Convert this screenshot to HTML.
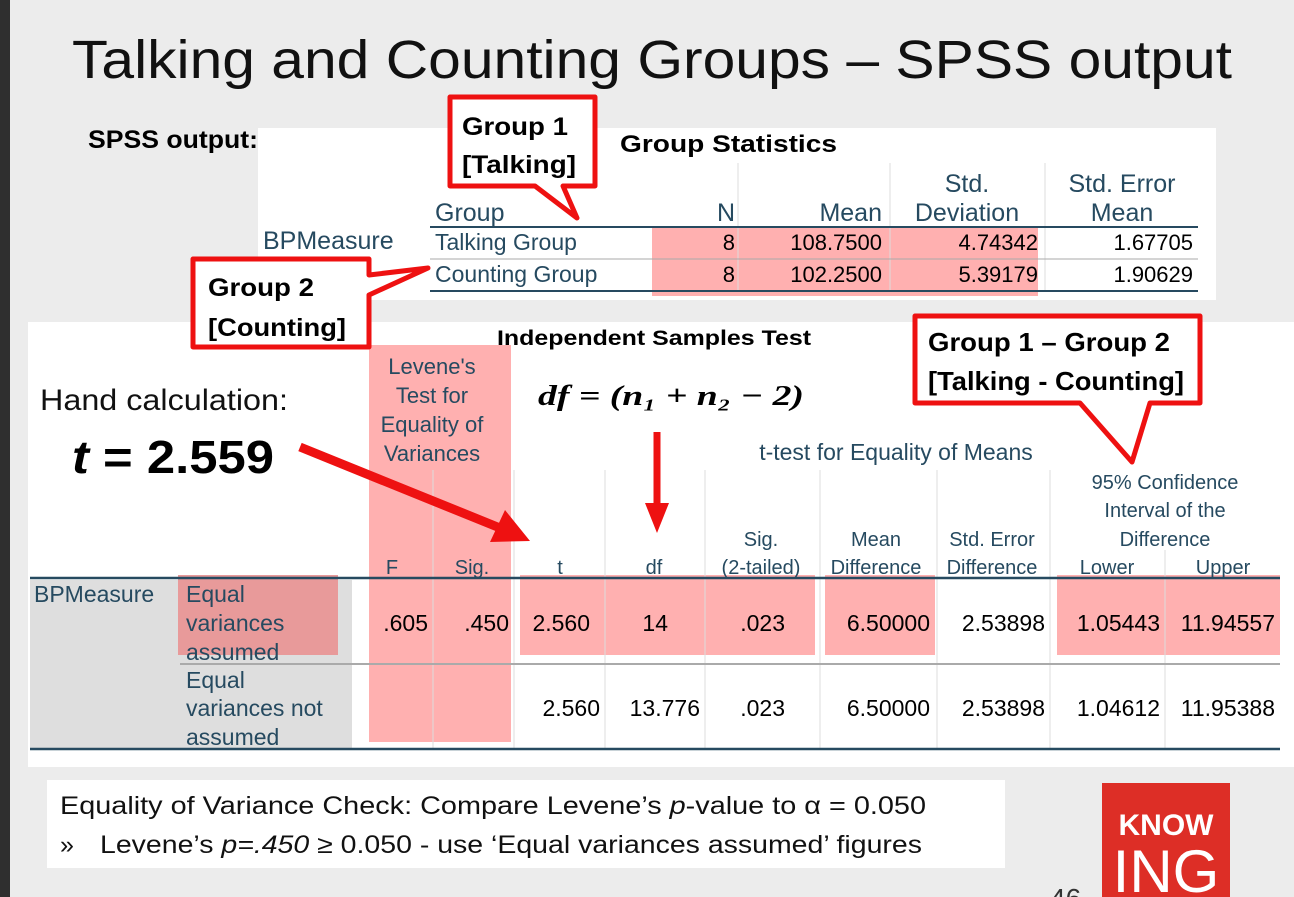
<!DOCTYPE html>
<html><head><meta charset="utf-8"><style>
html,body{margin:0;padding:0;background:#ebebeb;}
svg{display:block;font-family:"Liberation Sans",sans-serif;}
</style></head><body>
<svg width="1294" height="897" viewBox="0 0 1294 897">
<rect x="0" y="0" width="1294" height="897" fill="#ececec"/>
<rect x="0" y="0" width="10" height="897" fill="#2f2f2f"/>
<text x="72" y="78" font-size="54" fill="#111" textLength="1160" lengthAdjust="spacingAndGlyphs">Talking and Counting Groups – SPSS output</text>
<text x="88" y="148" font-size="25" font-weight="bold" fill="#000" textLength="170" lengthAdjust="spacingAndGlyphs">SPSS output:</text>

<g>
<rect x="258" y="128" width="958" height="172" fill="#fff"/>
<text x="620" y="152" font-size="24" font-weight="bold" fill="#000" textLength="217" lengthAdjust="spacingAndGlyphs">Group Statistics</text>
<rect x="652" y="226" width="386" height="70" fill="#ffb0b0"/>
<line x1="738" y1="163" x2="738" y2="292" stroke="#ddd"/>
<line x1="890" y1="163" x2="890" y2="292" stroke="#ddd"/>
<line x1="1045" y1="163" x2="1045" y2="292" stroke="#ddd"/>
<g fill="#264a60" font-size="25">
<text x="435" y="221">Group</text>
<text x="735" y="221" text-anchor="end">N</text>
<text x="882" y="221" text-anchor="end">Mean</text>
<text x="967" y="192" text-anchor="middle">Std.</text>
<text x="967" y="221" text-anchor="middle">Deviation</text>
<text x="1122" y="192" text-anchor="middle">Std. Error</text>
<text x="1122" y="221" text-anchor="middle">Mean</text>
<text x="263" y="249">BPMeasure</text>
<text x="435" y="250" font-size="23">Talking Group</text>
<text x="435" y="282" font-size="23">Counting Group</text>
</g>
<line x1="430" y1="227" x2="1198" y2="227" stroke="#264a60" stroke-width="2"/>
<line x1="430" y1="259" x2="1198" y2="259" stroke="#aaa"/>
<line x1="430" y1="291" x2="1198" y2="291" stroke="#264a60" stroke-width="2"/>
<g fill="#000" font-size="22" text-anchor="end">
<text x="735" y="250">8</text><text x="882" y="250">108.7500</text><text x="1038" y="250">4.74342</text><text x="1193" y="250">1.67705</text>
<text x="735" y="282">8</text><text x="882" y="282">102.2500</text><text x="1038" y="282">5.39179</text><text x="1193" y="282">1.90629</text>
</g>
</g>

<g>
<rect x="28" y="322" width="1266" height="445" fill="#fff"/>
<rect x="30" y="580" width="322" height="168" fill="#dedede"/>
<rect x="369" y="345" width="142" height="397" fill="#ffb0b0"/>
<rect x="520" y="575" width="295" height="80" fill="#ffb0b0"/>
<rect x="825" y="575" width="110" height="80" fill="#ffb0b0"/>
<rect x="1057" y="575" width="223" height="80" fill="#ffb0b0"/>
<rect x="178" y="575" width="160" height="80" fill="#e89a9a"/>
<g stroke="#ddd">
<line x1="433" y1="470" x2="433" y2="748"/><line x1="514" y1="470" x2="514" y2="748"/>
<line x1="605" y1="470" x2="605" y2="748"/><line x1="705" y1="470" x2="705" y2="748"/>
<line x1="820" y1="470" x2="820" y2="748"/><line x1="937" y1="470" x2="937" y2="748"/>
<line x1="1050" y1="470" x2="1050" y2="748"/><line x1="1165" y1="550" x2="1165" y2="748"/>
</g>
<line x1="30" y1="578" x2="1280" y2="578" stroke="#264a60" stroke-width="2.5"/>
<line x1="180" y1="664" x2="1280" y2="664" stroke="#aaa" stroke-width="2"/>
<line x1="30" y1="749" x2="1280" y2="749" stroke="#264a60" stroke-width="2.5"/>
<text x="654" y="345" font-size="21" font-weight="bold" fill="#000" text-anchor="middle" textLength="314" lengthAdjust="spacingAndGlyphs">Independent Samples Test</text>
<g fill="#264a60" font-size="22" text-anchor="middle">
<text x="432" y="374">Levene's</text><text x="432" y="403">Test for</text><text x="432" y="432">Equality of</text><text x="432" y="461">Variances</text>
<text x="896" y="460" font-size="23">t-test for Equality of Means</text>
</g>
<g fill="#264a60" font-size="20" text-anchor="middle">
<text x="1165" y="489">95% Confidence</text><text x="1165" y="517">Interval of the</text><text x="1165" y="546">Difference</text>
<text x="761" y="546">Sig.</text><text x="876" y="546">Mean</text><text x="992" y="546">Std. Error</text>
<text x="392" y="574">F</text><text x="472" y="574">Sig.</text><text x="560" y="574">t</text><text x="654" y="574">df</text>
<text x="761" y="574">(2-tailed)</text><text x="876" y="574">Difference</text><text x="992" y="574">Difference</text>
<text x="1107" y="574">Lower</text><text x="1223" y="574">Upper</text>
</g>
<g fill="#264a60" font-size="23">
<text x="34" y="602">BPMeasure</text>
<text x="186" y="602">Equal</text><text x="186" y="631">variances</text><text x="186" y="660">assumed</text>
<text x="186" y="688">Equal</text><text x="186" y="716">variances not</text><text x="186" y="745">assumed</text>
</g>
<g fill="#000" font-size="23" text-anchor="end">
<text x="428" y="631">.605</text><text x="509" y="631">.450</text><text x="590" y="631">2.560</text><text x="668" y="631">14</text>
<text x="785" y="631">.023</text><text x="930" y="631">6.50000</text><text x="1045" y="631">2.53898</text><text x="1160" y="631">1.05443</text><text x="1275" y="631">11.94557</text>
<text x="600" y="716">2.560</text><text x="700" y="716">13.776</text><text x="785" y="716">.023</text><text x="930" y="716">6.50000</text>
<text x="1045" y="716">2.53898</text><text x="1160" y="716">1.04612</text><text x="1275" y="716">11.95388</text>
</g>
</g>

<text x="40" y="410" font-size="30" fill="#111" textLength="248" lengthAdjust="spacingAndGlyphs">Hand calculation:</text>
<text x="72" y="473" font-size="46" font-weight="bold" fill="#000" textLength="202" lengthAdjust="spacingAndGlyphs"><tspan font-style="italic">t</tspan> = 2.559</text>
<text x="538" y="405" font-size="29" font-weight="bold" font-style="italic" font-family="Liberation Serif,serif" fill="#000" textLength="266" lengthAdjust="spacingAndGlyphs">df = (n₁ + n₂ − 2)</text>

<g>
<line x1="300" y1="447" x2="500" y2="528" stroke="#ee1111" stroke-width="9"/>
<polygon points="530,541 490,542 505,510" fill="#ee1111"/>
</g>
<g>
<line x1="657" y1="432" x2="657" y2="505" stroke="#ee1111" stroke-width="7"/>
<polygon points="645,503 669,503 657,533" fill="#ee1111"/>
</g>

<g>
<polygon points="450,97 595,97 595,186 563,186 577,218 535,186 450,186" fill="#fff" stroke="#ee1111" stroke-width="5" stroke-linejoin="round"/>
<text x="462" y="135" font-size="25" font-weight="bold" fill="#000" textLength="106" lengthAdjust="spacingAndGlyphs">Group 1</text>
<text x="462" y="173" font-size="25" font-weight="bold" fill="#000" textLength="114" lengthAdjust="spacingAndGlyphs">[Talking]</text>
</g>
<g>
<polygon points="193,259 369,259 369,275 428,268 369,295 369,347 193,347" fill="#fff" stroke="#ee1111" stroke-width="5" stroke-linejoin="round"/>
<text x="208" y="296" font-size="25" font-weight="bold" fill="#000" textLength="106" lengthAdjust="spacingAndGlyphs">Group 2</text>
<text x="208" y="336" font-size="25" font-weight="bold" fill="#000" textLength="138" lengthAdjust="spacingAndGlyphs">[Counting]</text>
</g>
<g>
<polygon points="915,316 1200,316 1200,403 1150,403 1132,462 1080,403 915,403" fill="#fff" stroke="#ee1111" stroke-width="5" stroke-linejoin="round"/>
<text x="928" y="351" font-size="26" font-weight="bold" fill="#000" textLength="242" lengthAdjust="spacingAndGlyphs">Group 1 – Group 2</text>
<text x="928" y="390" font-size="26" font-weight="bold" fill="#000" textLength="256" lengthAdjust="spacingAndGlyphs">[Talking - Counting]</text>
</g>

<g>
<rect x="47" y="780" width="958" height="88" fill="#fff"/>
<text x="60" y="814" font-size="25" fill="#111" textLength="866" lengthAdjust="spacingAndGlyphs">Equality of Variance Check:  Compare Levene’s <tspan font-style="italic">p</tspan>-value to α = 0.050</text>
<text x="60" y="853" font-size="25" fill="#111">»</text>
<text x="100" y="853" font-size="25" fill="#111" textLength="822" lengthAdjust="spacingAndGlyphs">Levene’s <tspan font-style="italic">p=.450</tspan> ≥ 0.050 - use ‘Equal variances assumed’ figures</text>
</g>
<g>
<rect x="1102" y="783" width="128" height="114" fill="#dd2e26"/>
<text x="1166" y="835" font-size="30" font-weight="bold" fill="#fff" text-anchor="middle">KNOW</text>
<text x="1166" y="892" font-size="60" fill="#fff" text-anchor="middle">ING</text>
</g>
<text x="1050" y="908" font-size="28" fill="#333">46</text>
</svg>
</body></html>
